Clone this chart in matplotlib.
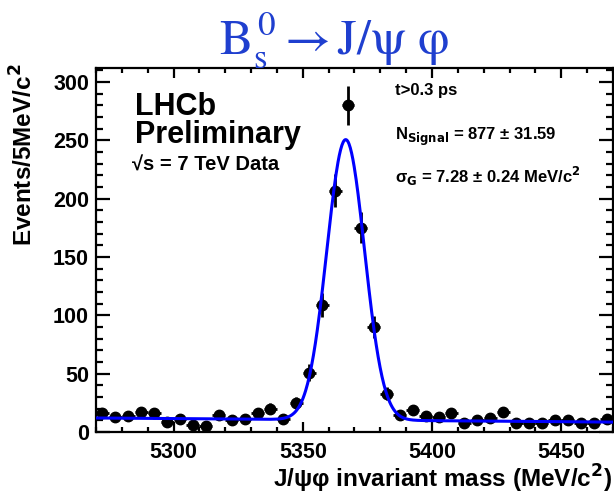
import numpy as np
import matplotlib.pyplot as plt
from matplotlib.ticker import MultipleLocator

# bin centres (5 MeV bins) and event counts
mass = np.arange(5272.5, 5470, 5.0)
counts = [16, 13, 14, 17, 16, 9, 11, 6, 5, 15,
          10, 11, 16, 20, 11, 25, 51, 109, 207, 280,
          175, 90, 33, 15, 19, 14, 13, 16, 8, 10,
          12, 17, 8, 8, 8, 10, 10, 8, 8, 11]

# fit parameters (from the plot labels / curve)
n_signal = 877
sigma_g = 7.28
mean_g = 5366.6
bkg_left = 12.0
bkg_right = 8.5
bin_width = 5.0

bold = dict(family="Liberation Sans", fontweight="bold")

fig = plt.figure(figsize=(6.14, 4.95), dpi=100)
ax = fig.add_axes([96 / 614, 1 - 432 / 495, 517 / 614, 364 / 495])

counts = np.array(counts, dtype=float)
ax.errorbar(mass, counts, yerr=np.sqrt(counts), xerr=bin_width / 2,
            fmt="o", color="black", ms=7.5, elinewidth=2, capsize=0, zorder=3)

# fit curve: gaussian signal + linear background
x = np.linspace(5270, 5470, 800)
amp = n_signal * bin_width / (sigma_g * np.sqrt(2 * np.pi))
bkg = bkg_left + (bkg_right - bkg_left) * (x - 5270) / 200
fit = bkg + amp * np.exp(-0.5 * ((x - mean_g) / sigma_g) ** 2)
ax.plot(x, fit, color="#0000ff", lw=2.2, zorder=4)

ax.set_xlim(5270, 5470)
ax.set_ylim(0, 312)
ax.xaxis.set_major_locator(MultipleLocator(50))
ax.xaxis.set_minor_locator(MultipleLocator(10))
ax.yaxis.set_major_locator(MultipleLocator(50))
ax.yaxis.set_minor_locator(MultipleLocator(10))
ax.tick_params(axis="both", which="both", direction="in", top=True, right=True,
               width=1.6, labelsize=15.5)
ax.tick_params(axis="y", which="major", length=10, pad=5)
ax.tick_params(axis="y", which="minor", length=5)
ax.tick_params(axis="x", which="major", length=7, pad=7)
ax.tick_params(axis="x", which="minor", length=3.5)
for lab in ax.get_xticklabels() + ax.get_yticklabels():
    lab.set_fontfamily("Liberation Sans")
    lab.set_fontweight("bold")
for sp in ax.spines.values():
    sp.set_linewidth(1.6)

# labels
fig.text(24 / 614, 1 - 64 / 495, "Events/5MeV/c$^\\mathbf{2}$", rotation=90,
         ha="center", va="top", fontsize=17.5, **bold)
fig.text(612 / 614, 1 - 488 / 495, "J/\u03c8\u03c6 invariant mass (MeV/c$^\\mathbf{2}$)",
         ha="right", va="baseline", fontsize=17.5, **bold)

fig.text(334 / 614, 1 - 54 / 495, r"$\mathrm{B_s^{\,0}\rightarrow J/\psi\ \varphi}$",
         ha="center", va="baseline", fontsize=36, color="#1f3fcf",
         math_fontfamily="stix")

# annotations inside the frame
fig.text(135 / 614, 1 - 115 / 495, "LHCb", fontsize=22, **bold)
fig.text(135 / 614, 1 - 143 / 495, "Preliminary", fontsize=22, **bold)
fig.text(132 / 614, 1 - 171 / 495, "\u221as = 7 TeV Data", fontsize=14.5, **bold)

fig.text(395 / 614, 1 - 95 / 495, "t>0.3 ps", fontsize=12, **bold)
fig.text(395 / 614, 1 - 140 / 495,
         "N$_\\mathbf{Signal}$ = 877 \u00b1 31.59", fontsize=12, **bold)
fig.text(395 / 614, 1 - 183 / 495,
         "\u03c3$_\\mathbf{G}$ = 7.28 \u00b1 0.24 MeV/c$^\\mathbf{2}$", fontsize=12, **bold)

fig.savefig("out.png", dpi=100)
